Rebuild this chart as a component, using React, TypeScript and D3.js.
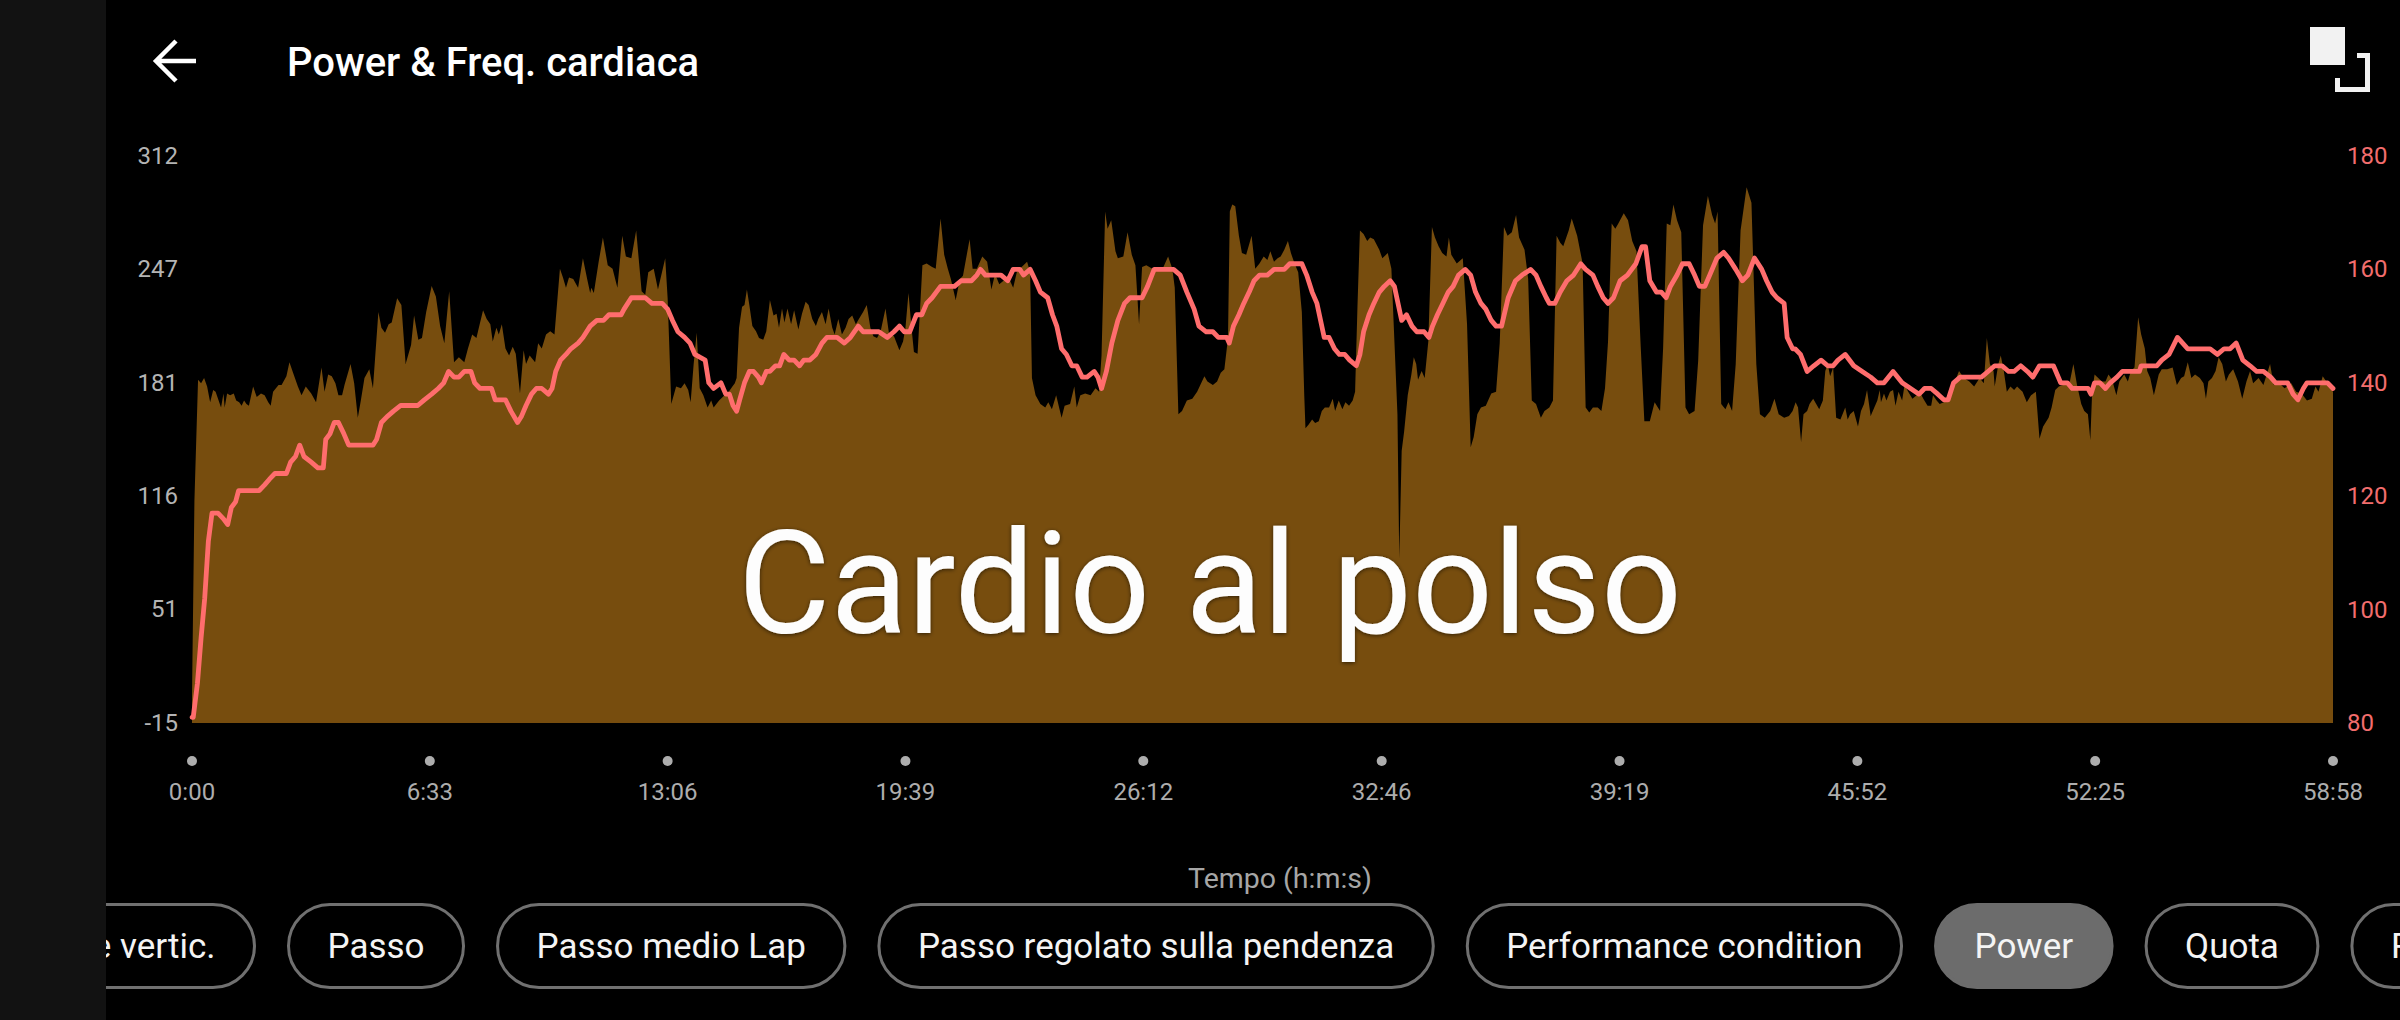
import React, { useMemo } from 'react';
import * as d3 from 'd3';

// ---------- data ----------
const xTickSeconds = [0, 393, 786, 1179, 1572, 1966, 2359, 2752, 3145, 3538];
const xTickLabels = ['0:00', '6:33', '13:06', '19:39', '26:12', '32:46', '39:19', '45:52', '52:25', '58:58'];
const powerTicks = [-15, 51, 116, 181, 247, 312];
const hrTicks = [80, 100, 120, 140, 160, 180];

const chipLabels = ['Oscillazione vertic.', 'Passo', 'Passo medio Lap', 'Passo regolato sulla pendenza', 'Performance condition', 'Power', 'Quota', 'Rapporto vertic.'];
const selectedChip = 'Power';

// power [seconds, W]
const powerA: [number, number][] = [[0,0],[4,113],[10,183],[15,181],[20,184],[25,179],[30,170],[35,177],[39,176],[43,172],[48,167],[52,175],[54,167],[58,175],[63,174],[69,175],[73,171],[78,170],[82,168],[86,171],[90,169],[94,168],[101,179],[107,173],[114,175],[120,174],[126,170],[130,168],[134,176],[143,180],[148,180],[156,185],[161,193],[167,187],[175,179],[181,174],[188,179],[197,175],[205,170],[214,190],[219,176],[225,186],[231,185],[237,181],[242,174],[248,174],[252,180],[262,192],[268,181],[274,161],[279,171],[285,184],[293,189],[299,178],[308,222],[313,213],[319,210],[325,215],[330,216],[339,230],[346,226],[353,192],[362,203],[367,220],[374,206],[380,207],[387,222],[396,237],[403,231],[410,214],[417,204],[425,234],[433,193],[441,196],[450,193],[456,201],[463,209],[470,207],[474,213],[481,223],[487,218],[493,215],[497,205],[503,213],[507,209],[512,215],[518,201],[524,197],[530,202],[535,198],[542,175],[548,200],[552,192],[558,197],[567,193],[572,204],[578,201],[585,209],[592,211],[599,209],[608,247],[613,242],[618,236],[623,242],[630,241],[638,236],[646,253],[653,241],[658,233],[660,236],[664,233],[672,251],[679,265],[687,249],[695,247],[703,236],[711,266],[717,254],[726,253],[734,269],[743,234],[749,232],[754,245],[763,247],[770,235],[782,253],[786,230],[792,169],[800,179],[808,178],[814,181],[820,177],[824,170],[829,192],[834,210],[839,178],[845,174],[852,167],[858,171],[862,167],[871,171],[880,174]];
const powerB: [number, number][] = [[887,176],[893,179],[897,181],[900,184],[904,213],[909,225],[913,226],[917,235],[921,226],[926,214],[932,211],[937,207],[944,206],[949,211],[955,229],[961,220],[966,221],[970,213],[975,224],[979,216],[984,224],[990,215],[995,223],[1002,212],[1008,221],[1014,228],[1019,226],[1025,218],[1031,214],[1035,218],[1041,222],[1047,215],[1052,224],[1058,213],[1062,209],[1068,218],[1074,209],[1080,213],[1085,218],[1091,220],[1097,215],[1102,218],[1109,222],[1115,226],[1121,213],[1126,208],[1132,207],[1138,211],[1146,224],[1152,209],[1160,208],[1169,200],[1175,205],[1179,213],[1184,233],[1189,213],[1193,199],[1199,198],[1203,223],[1207,249],[1214,250],[1223,248],[1229,247],[1237,276],[1243,255],[1249,247],[1254,241],[1262,229],[1269,241],[1274,243],[1285,264],[1290,247],[1297,247],[1306,254],[1314,251],[1321,235],[1327,244],[1334,238],[1341,240],[1348,243],[1357,236],[1363,245],[1371,248],[1380,251],[1385,245],[1388,184],[1394,174],[1402,169],[1410,167],[1415,170],[1421,166],[1428,174],[1437,161],[1442,168],[1451,169],[1458,179],[1462,167],[1468,174],[1476,175],[1485,174],[1493,178],[1499,176],[1503,197],[1509,280],[1513,270],[1519,275],[1526,257],[1530,253],[1539,254],[1546,268],[1553,255],[1559,249],[1565,215],[1570,248],[1577,249],[1587,247],[1596,247],[1604,247],[1613,254],[1620,247],[1624,236],[1630,163],[1636,165],[1644,171],[1653,172],[1661,176],[1673,185],[1678,182],[1687,180],[1694,182],[1700,187],[1706,189],[1712,207],[1715,280],[1719,284],[1724,283],[1730,266],[1735,256],[1742,255],[1751,266],[1757,247],[1764,250]];
const powerC: [number, number][] = [[1771,254],[1777,252],[1782,257],[1788,251],[1794,253],[1799,254],[1805,258],[1811,263],[1816,256],[1822,250],[1828,245],[1834,222],[1838,174],[1840,155],[1845,157],[1851,160],[1856,158],[1862,159],[1867,165],[1872,167],[1879,167],[1885,172],[1889,165],[1895,171],[1901,166],[1906,170],[1912,168],[1918,171],[1922,176],[1926,226],[1930,269],[1936,267],[1942,263],[1947,265],[1953,264],[1962,258],[1967,253],[1976,256],[1982,247],[1987,205],[1992,163],[1995,80],[1999,142],[2003,153],[2009,174],[2015,186],[2019,196],[2023,192],[2026,183],[2032,188],[2037,184],[2043,205],[2049,271],[2054,265],[2060,260],[2066,256],[2073,254],[2077,265],[2081,255],[2090,250],[2100,253],[2107,215],[2113,144],[2118,150],[2124,163],[2130,167],[2138,168],[2147,175],[2155,176],[2161,204],[2168,271],[2174,266],[2181,268],[2188,278],[2193,265],[2202,258],[2208,241],[2214,171],[2221,169],[2229,161],[2235,165],[2243,167],[2249,171],[2255,266],[2261,262],[2266,260],[2275,269],[2280,276],[2289,266],[2298,250],[2303,167],[2309,164],[2315,167],[2323,167],[2329,165],[2335,178],[2340,205],[2346,273],[2352,270],[2357,273],[2366,279],[2373,275],[2380,263],[2387,257],[2394,202],[2400,159],[2409,159],[2417,170],[2426,165],[2431,201],[2437,273],[2443,272],[2448,284],[2454,275],[2461,268],[2468,167],[2474,163],[2483,165],[2489,194],[2497,272],[2505,289],[2512,278],[2517,273],[2521,280],[2527,169],[2534,166],[2539,170],[2545,165],[2551,192],[2559,269],[2569,294],[2577,285],[2585,192],[2591,163],[2599,161],[2608,165],[2615,172],[2622,163],[2631,161],[2639,162],[2645,165],[2650,170]];
const powerD: [number, number][] = [[2654,167],[2659,147],[2663,163],[2669,165],[2673,169],[2679,172],[2684,169],[2689,166],[2695,171],[2699,188],[2703,192],[2707,185],[2712,190],[2717,161],[2724,160],[2732,167],[2736,160],[2740,163],[2746,165],[2753,156],[2758,165],[2763,169],[2768,177],[2774,162],[2780,167],[2785,171],[2789,177],[2791,170],[2796,175],[2800,171],[2806,176],[2811,177],[2815,168],[2820,176],[2826,171],[2830,180],[2836,176],[2843,172],[2850,174],[2855,176],[2861,172],[2868,168],[2874,168],[2877,174],[2883,171],[2888,169],[2895,170],[2902,174],[2911,180],[2920,188],[2928,184],[2937,182],[2945,179],[2954,184],[2961,181],[2966,207],[2971,192],[2977,188],[2979,179],[2985,192],[2989,197],[2994,188],[2999,176],[3005,179],[3011,177],[3016,179],[3025,176],[3032,170],[3039,174],[3047,176],[3053,149],[3059,156],[3068,161],[3073,167],[3079,177],[3085,179],[3092,180],[3102,180],[3109,192],[3115,180],[3122,169],[3127,165],[3133,163],[3137,148],[3140,176],[3144,186],[3150,184],[3156,182],[3162,182],[3167,186],[3173,183],[3180,174],[3185,182],[3193,186],[3199,182],[3204,188],[3210,190],[3216,219],[3221,209],[3227,201],[3231,188],[3236,184],[3242,174],[3250,186],[3255,189],[3264,189],[3273,190],[3280,180],[3287,184],[3292,185],[3298,193],[3304,184],[3310,186],[3318,184],[3324,181],[3328,172],[3332,182],[3338,184],[3344,188],[3349,196],[3355,192],[3361,182],[3366,186],[3373,189],[3381,182],[3388,172],[3395,182],[3401,188],[3406,181],[3415,184],[3423,180],[3434,192],[3440,180],[3446,182],[3458,178],[3469,181],[3477,176],[3486,175],[3495,171],[3503,172],[3509,179],[3514,176],[3521,185],[3529,181],[3538,176]];

// heart rate [seconds, bpm]
const hrA: [number, number][] = [[0,81],[2,81],[9,87],[15,95],[21,102],[27,112],[33,117],[43,117],[52,116],[59,115],[65,118],[72,119],[77,121],[83,121],[91,121],[111,121],[120,122],[128,123],[137,124],[156,124],[163,126],[171,127],[178,129],[185,127],[197,126],[208,125],[217,125],[221,130],[228,131],[235,133],[242,133],[251,131],[259,129],[274,129],[285,129],[299,129],[305,130],[313,133],[322,134],[333,135],[345,136],[373,136],[384,137],[396,138],[407,139],[416,140],[424,142],[433,141],[441,141],[450,142],[454,142],[461,142],[467,140],[476,139],[495,139],[501,137],[518,137],[527,135],[538,133],[544,134],[552,136],[561,138],[569,139],[578,139],[589,138],[595,139],[601,142],[609,144],[618,145],[626,146],[638,147],[646,148],[658,150],[669,151],[680,151],[689,152],[709,152],[714,153],[726,155],[749,155],[760,154],[777,154],[786,153],[794,151],[803,149],[814,148],[823,147],[831,145],[848,144],[854,140],[862,139],[874,140],[882,138]];
const hrB: [number, number][] = [[888,138],[894,136],[900,135],[905,137],[913,140],[921,142],[928,142],[936,141],[941,140],[949,142],[955,142],[964,143],[971,143],[978,145],[987,144],[995,144],[1004,143],[1011,144],[1021,144],[1031,145],[1041,147],[1049,148],[1066,148],[1078,147],[1088,148],[1101,150],[1109,149],[1135,149],[1149,148],[1160,149],[1169,150],[1177,149],[1186,149],[1197,152],[1206,152],[1214,154],[1223,155],[1237,157],[1249,157],[1260,157],[1271,158],[1288,158],[1297,159],[1303,160],[1311,159],[1326,159],[1337,159],[1348,158],[1357,160],[1368,160],[1374,159],[1385,160],[1394,158],[1402,156],[1414,155],[1422,152],[1429,150],[1437,146],[1445,145],[1454,143],[1462,143],[1471,141],[1479,141],[1491,142],[1497,141],[1503,139],[1511,142],[1520,147],[1530,151],[1541,154],[1550,155],[1570,155],[1579,157],[1590,160],[1604,160],[1622,160],[1633,159],[1644,156],[1656,153],[1664,150],[1676,149],[1687,149],[1696,148],[1710,148],[1714,147],[1721,150],[1730,152],[1738,154],[1747,156],[1755,158],[1764,159]];
const hrC: [number, number][] = [[1772,159],[1777,159],[1788,160],[1805,160],[1814,161],[1822,161],[1834,161],[1842,159],[1851,156],[1859,154],[1865,151],[1871,148],[1879,148],[1888,146],[1896,145],[1905,145],[1913,144],[1924,143],[1930,145],[1936,149],[1945,152],[1953,154],[1962,156],[1970,157],[1980,158],[1987,157],[1993,154],[1999,151],[2007,152],[2016,150],[2024,149],[2036,149],[2044,148],[2050,150],[2058,152],[2067,154],[2076,156],[2084,157],[2093,159],[2104,160],[2113,159],[2121,156],[2130,154],[2138,153],[2147,151],[2155,150],[2164,150],[2175,155],[2187,158],[2198,159],[2212,160],[2221,159],[2229,157],[2238,155],[2243,154],[2252,154],[2261,156],[2272,158],[2283,159],[2295,161],[2303,160],[2315,159],[2323,157],[2332,155],[2340,154],[2349,155],[2360,158],[2372,159],[2386,161],[2396,164],[2402,164],[2409,158],[2420,156],[2428,156],[2436,155],[2443,157],[2454,159],[2463,161],[2474,161],[2483,159],[2491,157],[2500,157],[2508,159],[2520,162],[2531,163],[2539,162],[2551,160],[2562,158],[2571,159],[2582,162],[2594,160],[2602,158],[2611,156],[2619,155],[2631,154],[2636,148],[2645,146],[2649,146]];
const hrD: [number, number][] = [[2658,145],[2669,142],[2680,143],[2692,144],[2703,143],[2712,143],[2720,144],[2732,145],[2746,143],[2760,142],[2774,141],[2785,140],[2796,140],[2811,142],[2826,140],[2840,139],[2854,138],[2863,139],[2874,139],[2885,138],[2895,137],[2902,137],[2911,140],[2922,141],[2934,141],[2957,141],[2968,142],[2979,143],[2991,143],[3002,142],[3011,142],[3022,143],[3033,142],[3042,141],[3053,143],[3076,143],[3088,140],[3099,140],[3107,139],[3133,139],[3138,138],[3144,140],[3153,140],[3162,139],[3170,140],[3181,141],[3190,142],[3218,142],[3221,143],[3247,143],[3255,144],[3267,145],[3281,148],[3298,146],[3335,146],[3347,145],[3358,146],[3368,146],[3378,147],[3389,144],[3401,143],[3412,142],[3423,142],[3435,141],[3443,140],[3463,140],[3472,138],[3480,137],[3489,139],[3495,140],[3529,140],[3538,139]];

// ---------- component ----------
const W = 2400;
const H = 1020;
const FONT = 'Roboto, "Noto Sans", sans-serif';

export default function App() {
  const power = useMemo(() => [...powerA, ...powerB, ...powerC, ...powerD], []);
  const hr = useMemo(() => [...hrA, ...hrB, ...hrC, ...hrD], []);

  const x = d3.scaleLinear().domain([0, 3538]).range([192, 2333]);
  const yP = d3.scaleLinear().domain([-15, 312]).range([723, 156]);
  const yH = d3.scaleLinear().domain([80, 180]).range([723, 156]);

  const areaPath = d3.area<[number, number]>()
    .x(d => x(d[0]))
    .y0(yP(-15))
    .y1(d => yP(d[1]))
    .curve(d3.curveLinear)(power) || '';
  const linePath = d3.line<[number, number]>()
    .x(d => x(d[0]))
    .y(d => yH(d[1]))
    .curve(d3.curveLinear)(hr) || '';

  // chip layout using text measurement
  const chips = useMemo(() => {
    const canvas = document.createElement('canvas');
    const ctx = canvas.getContext('2d')!;
    ctx.font = '35px Roboto';
    const pad = 40.5, gap = 31;
    const widths = chipLabels.map(l => ctx.measureText(l).width + pad * 2);
    const out: { label: string; x: number; w: number }[] = [];
    let cursor = 256 - widths[0];
    chipLabels.forEach((l, i) => {
      out.push({ label: l, x: cursor, w: widths[i] });
      cursor += widths[i] + gap;
    });
    return out;
  }, []);

  return (
    <svg width={W} height={H} style={{ position: 'absolute', left: 0, top: 0, display: 'block', background: '#000' }} fontFamily={FONT}>
      <defs>
        <filter id="wmShadow" x="-10%" y="-30%" width="120%" height="160%">
          <feDropShadow dx="0" dy="1" stdDeviation="2" floodColor="#000" floodOpacity="0.6" />
        </filter>
        <clipPath id="chipClip">
          <rect x={0} y={890} width={W} height={110} />
        </clipPath>
      </defs>
      <rect x={0} y={0} width={W} height={H} fill="#000" />

      {/* power area */}
      <path d={areaPath} fill="#774d0e" />
      {/* HR line */}
      <path d={linePath} fill="none" stroke="#ff6d6d" strokeWidth={4.8} strokeLinejoin="round" strokeLinecap="round" />

      {/* watermark */}
      <text x={1210} y={633} fontSize={142} fill="#fdfdfd" textAnchor="middle" filter="url(#wmShadow)">Cardio al polso</text>

      {/* left axis */}
      {powerTicks.map(v => (
        <text key={'p' + v} x={178} y={yP(v)} fontSize={24} fill="#b4b4b4" textAnchor="end" dominantBaseline="central">{v}</text>
      ))}
      {/* right axis */}
      {hrTicks.map(v => (
        <text key={'h' + v} x={2347} y={yH(v)} fontSize={24} fill="#f26d6d" textAnchor="start" dominantBaseline="central">{v}</text>
      ))}
      {/* x axis */}
      {xTickSeconds.map((s, i) => (
        <g key={'x' + s}>
          <circle cx={x(s)} cy={761} r={5} fill="#adadad" />
          <text x={x(s)} y={800} fontSize={24} fill="#adadad" textAnchor="middle">{xTickLabels[i]}</text>
        </g>
      ))}
      <text x={1280} y={888} fontSize={28.5} fill="#a6a6a6" textAnchor="middle">Tempo (h:m:s)</text>

      {/* chips */}
      <g clipPath="url(#chipClip)">
        {chips.map(c => {
          const sel = c.label === selectedChip;
          return (
            <g key={c.label}>
              <rect x={c.x + 1.5} y={904.5} width={c.w - 3} height={83} rx={41.5} ry={41.5}
                fill={sel ? '#6c6c6c' : '#000'} stroke={sel ? '#6c6c6c' : '#707070'} strokeWidth={3} />
              <text x={c.x + c.w / 2} y={946} fontSize={35} fill="#f4f4f4" textAnchor="middle" dominantBaseline="central">{c.label}</text>
            </g>
          );
        })}
      </g>

      {/* left sidebar */}
      <rect x={0} y={0} width={106} height={H} fill="#121212" />

      {/* header */}
      <path d="M196,61 H158 M176,41 L156,61 L176,81" fill="none" stroke="#fff" strokeWidth={4.5} />
      <text x={287} y={76} fontSize={40} fontWeight={500} fill="#ffffff">Power &amp; Freq. cardiaca</text>

      {/* fullscreen icon */}
      <rect x={2310} y={27} width={35} height={38} fill="#f2f2f2" />
      <path d="M2357,55.5 H2367.5 V89.5 H2337.5 V78" fill="none" stroke="#f2f2f2" strokeWidth={5} />
    </svg>
  );
}
